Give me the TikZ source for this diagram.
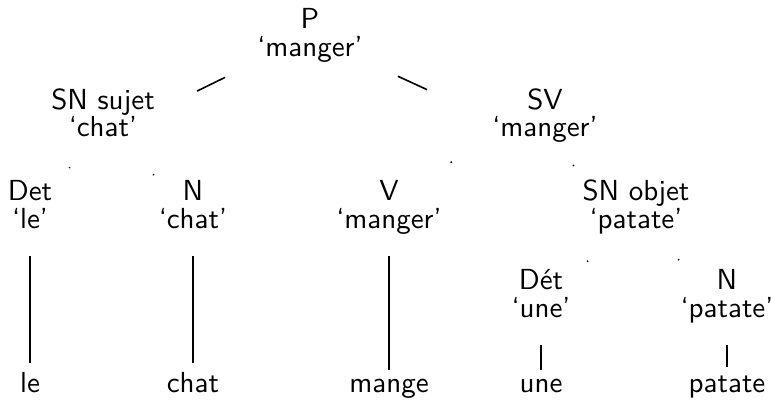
\documentclass[tikz,border=0pt]{standalone}
\usepackage{fontspec}
\setsansfont{lmsans10-regular.otf}
\usepackage{tikz}
\usetikzlibrary{positioning,calc}

\begin{document}
\begin{tikzpicture}[x=1pt,y=-1pt,line width=1.6pt,
   cat/.style={align=center,inner sep=0pt,anchor=base,font=\sffamily\fontsize{29}{28}\selectfont},
   word/.style={inner sep=0pt,anchor=base,font=\sffamily\fontsize{29}{28}\selectfont},
   leafedge/.style={shorten <=28pt,shorten >=8pt}]
   \useasboundingbox (0,0) rectangle (771,401);
   \node[cat] (p)      at (310,57)  {P\\`manger'};
   \node[cat] (snsuj)  at (103,137) {SN sujet\\`chat'};
   \node[cat] (sv)     at (545,137) {SV\\`manger'};
   \node[cat] (det)    at (30,228)  {Det\\`le'};
   \node[cat] (nchat)  at (193,228) {N\\`chat'};
   \node[cat] (v)      at (389,228) {V\\`manger'};
   \node[cat] (snobj)  at (636,228) {SN objet\\`patate'};
   \node[cat] (detune) at (541,317) {Dét\\`une'};
   \node[cat] (npat)   at (727,317) {N\\`patate'};
   \node[word] (le)    at (30,392)  {le};
   \node[word] (chat)  at (193,392) {chat};
   \node[word] (mange) at (389,392) {mange};
   \node[word] (une)   at (541,392) {une};
   \node[word] (pat)   at (727,392) {patate};
   \draw ($(p)!0.41!(snsuj.base)$) -- ($(p)!0.546!(snsuj.base)$);
   \draw ($(p)!0.374!(sv.south)$) -- ($(p)!0.498!(sv.south)$);
   \draw ($(snsuj.base)!0.452!(det)$) -- ($(snsuj.base)!0.462!(det)$);
   \draw ($(snsuj.base)!0.556!(nchat)$) -- ($(snsuj.base)!0.566!(nchat)$);
   \draw ($(sv.base)!0.596!(v.north)$) -- ($(sv.base)!0.606!(v.north)$);
   \draw ($(sv.base)!0.308!(snobj.base)$) -- ($(sv.base)!0.318!(snobj.base)$);
   \draw ($(snobj.base)!0.505!(detune)$) -- ($(snobj.base)!0.515!(detune)$);
   \draw ($(snobj.base)!0.463!(npat)$) -- ($(snobj.base)!0.473!(npat)$);
   \draw[leafedge] (det.base) -- (le.north);
   \draw[leafedge] (nchat.base) -- (chat.north);
   \draw[leafedge] (v.base) -- (mange.north);
   \draw[leafedge] (detune.base) -- (une.north);
   \draw[leafedge] (npat.base) -- (pat.north);
\end{tikzpicture}
\end{document}
